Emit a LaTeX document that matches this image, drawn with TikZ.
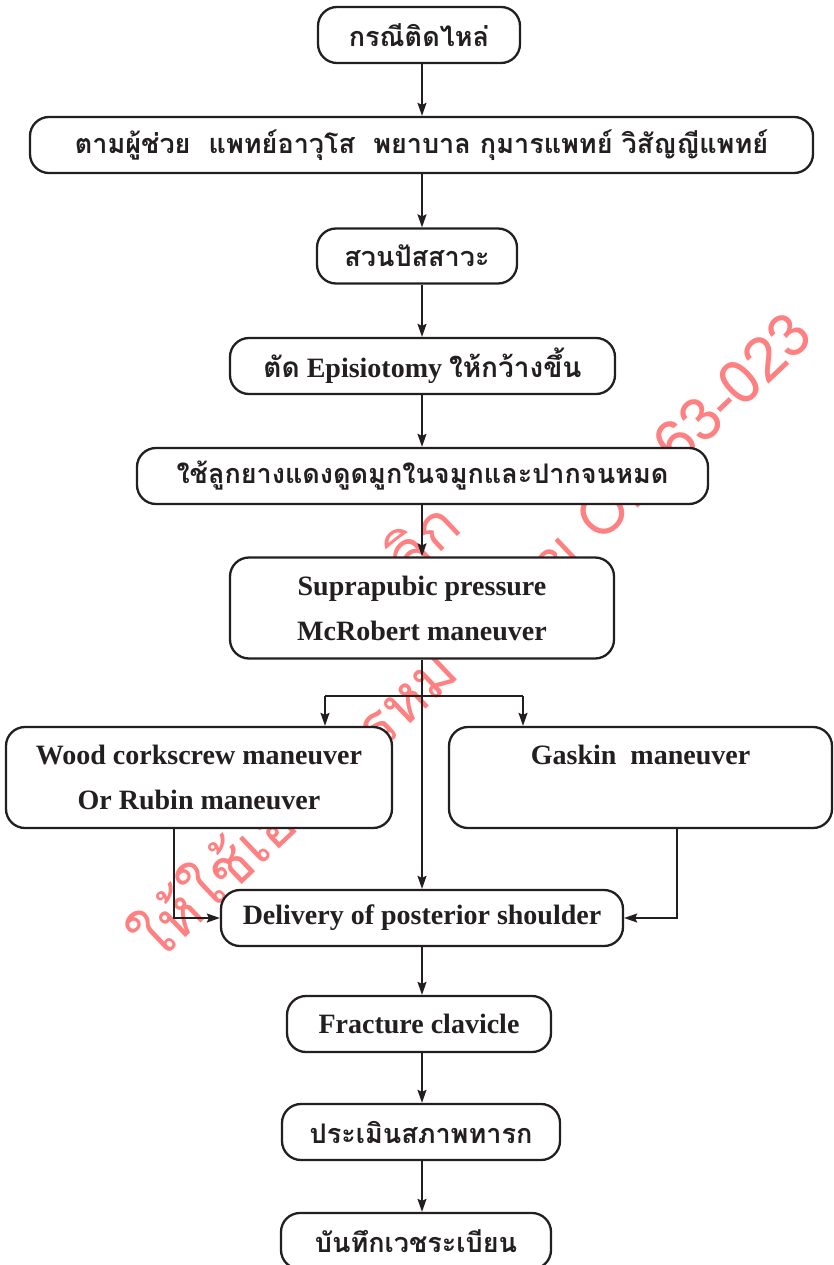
\documentclass[tikz,border=0pt]{standalone}
\usepackage{fontspec}
\setmainfont{Liberation Serif}
\newfontfamily\thai[Script=Thai]{Loma}
\usetikzlibrary{arrows.meta}
\definecolor{ink}{RGB}{35,31,32}
\definecolor{wm}{RGB}{255,128,128}
\begin{document}
\begin{tikzpicture}[x=1pt,y=-1pt,
  box/.style={draw=ink,line width=2.3pt,rounded corners=19pt,fill=white,text=ink,
    inner sep=0pt,align=center,font=\fontsize{28}{45}\selectfont\bfseries},
  tbox/.style={box,font=\fontsize{27}{45}\selectfont\thai\bfseries},
  arr/.style={draw=ink,line width=1.5pt,-{Stealth[length=13pt,width=9pt,inset=2pt]}},
  ln/.style={draw=ink,line width=1.5pt},
  wmark/.style={text=wm,inner sep=0pt,rotate=43.5,font=\fontsize{61}{64}\selectfont\thai}]
\useasboundingbox (0,0) rectangle (834,1265);
% watermark
\node[wmark,anchor=base west] (wm1) at (157,965) {ให้ใช้เอกสารหมายเลข OB-63-023};
\node[wmark,anchor=base east] (wm2) at (464,530) {ยกเลิก};
% boxes
\node[tbox,minimum width=202pt,minimum height=56pt] (b1) at (419,35) {กรณีติดไหล่};
\node[tbox,minimum width=783pt,minimum height=56pt] (b2) at (421.5,145) {ตามผู้ช่วย\ \ แพทย์อาวุโส\ \ พยาบาล กุมารแพทย์ วิสัญญีแพทย์};
\node[tbox,minimum width=200pt,minimum height=55pt] (b3) at (417,256) {สวนปัสสาวะ};
\node[box,minimum width=385pt,minimum height=56pt] (b4) at (422.5,366) {{\thai ตัด} Episiotomy {\thai ให้กว้างขึ้น}};
\node[tbox,minimum width=571pt,minimum height=56pt] (b5) at (422.5,476) {ใช้ลูกยางแดงดูดมูกในจมูกและปากจนหมด};
\node[box,minimum width=384pt,minimum height=101pt] (b6) at (422,608) {Suprapubic pressure\\McRobert maneuver};
\node[box,minimum width=386pt,minimum height=101pt] (b7) at (199,777.5) {Wood corkscrew maneuver\\Or Rubin maneuver};
\node[box,minimum width=383pt,minimum height=101pt] (b8) at (640.5,777.5) {Gaskin\ \ maneuver\\\mbox{}};
\node[box,minimum width=402pt,minimum height=56pt] (b9) at (422,918) {Delivery of posterior shoulder};
\node[box,minimum width=264pt,minimum height=56pt] (b10) at (419,1024) {Fracture clavicle};
\node[tbox,minimum width=278pt,minimum height=56pt] (b11) at (421,1132) {ประเมินสภาพทารก};
\node[tbox,minimum width=270pt,minimum height=56pt] (b12) at (416,1241) {บันทึกเวชระเบียน};
% connector guides
\coordinate (ax) at (422,0);
\coordinate (bl) at (325,696);
\coordinate (br) at (523,696);
\coordinate (lx) at (174,0);
\coordinate (rx) at (677,0);
% connectors
\draw[arr] (b1.south -| ax) -- (b2.north -| ax);
\draw[arr] (b2.south -| ax) -- (b3.north -| ax);
\draw[arr] (b3.south -| ax) -- (b4.north -| ax);
\draw[arr] (b4.south -| ax) -- (b5.north -| ax);
\draw[arr] (b5.south -| ax) -- (b6.north -| ax);
\draw[arr] (b6.south -| ax) -- (b9.north -| ax);
\draw[ln] (bl) -- (br);
\draw[arr] (bl) -- (bl |- b7.north);
\draw[arr] (br) -- (br |- b8.north);
\draw[arr] (b7.south -| lx) |- (b9.west);
\draw[arr] (b8.south -| rx) |- (b9.east);
\draw[arr] (b9.south -| ax) -- (b10.north -| ax);
\draw[arr] (b10.south -| ax) -- (b11.north -| ax);
\draw[arr] (b11.south -| ax) -- (b12.north -| ax);
\end{tikzpicture}
\end{document}
